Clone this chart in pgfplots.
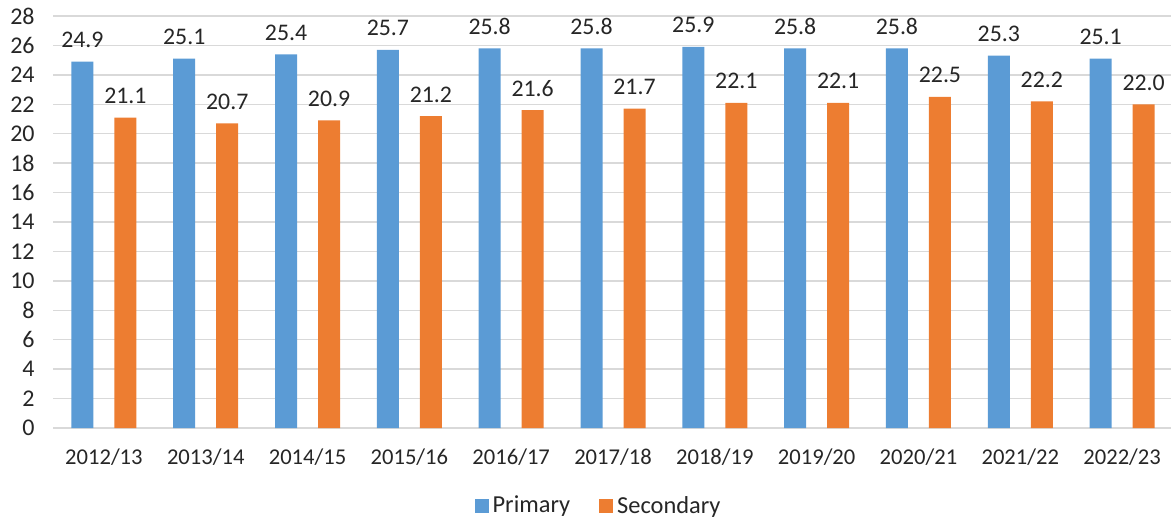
\documentclass[border=0pt]{standalone}
\usepackage{pgfplots}
\pgfplotsset{compat=1.18}
\usepackage{fontspec}
\setmainfont{Carlito}
\definecolor{prim}{HTML}{5B9BD5}
\definecolor{seco}{HTML}{ED7D31}
\definecolor{gridc}{HTML}{D9D9D9}
\definecolor{txt}{HTML}{262626}
\begin{document}
\begin{tikzpicture}
\useasboundingbox (0,0) rectangle (585.5pt,260.5pt);
\clip (0,0) rectangle (585.5pt,260.5pt);
\fontsize{11.3}{13.5}\selectfont
\begin{axis}[
  at={(26.5pt,46.5pt)}, anchor=south west,
  scale only axis, width=560pt, height=206pt,
  ybar=10.5pt, bar width=11pt,
  xmin=-0.5, xmax=10.5,
  ymin=0, ymax=28,
  ytick={0,2,...,28},
  xtick={0,...,10},
  xticklabels={2012/13,2013/14,2014/15,2015/16,2016/17,2017/18,2018/19,2019/20,2020/21,2021/22,2022/23},
  /pgf/number format/assume math mode=true,
  major tick length=0pt,
  axis line style={draw=none},
  ymajorgrids, grid style={gridc, line width=0.75pt},
  tick label style={font=\fontsize{11.3}{13.5}\selectfont, text=txt},
  yticklabel style={anchor=east, inner sep=0pt, xshift=-9pt, font=\fontsize{12}{14}\selectfont},
  xticklabel style={anchor=north, inner sep=0pt, yshift=-10pt},
  nodes near coords,
  nodes near coords style={font=\fontsize{11.9}{14}\selectfont, text=txt, anchor=base, inner sep=0pt, yshift=7pt,
     /pgf/number format/.cd, fixed, fixed zerofill, precision=1, assume math mode=true},
  legend style={draw=none, fill=none, at={(0.488,-0.19)}, anchor=center,
     legend columns=2, font=\fontsize{12.2}{14}\selectfont, text=txt,
     /tikz/every even column/.append style={column sep=12.5pt}},
  legend cell align=left,
  legend image code/.code={\fill[#1] (0pt,-3.5pt) rectangle (7pt,3.5pt);},
]
\addplot[fill=prim, draw=none] coordinates {(0,24.9) (1,25.1) (2,25.4) (3,25.7) (4,25.8) (5,25.8) (6,25.9) (7,25.8) (8,25.8) (9,25.3) (10,25.1)};
\addplot[fill=seco, draw=none] coordinates {(0,21.1) (1,20.7) (2,20.9) (3,21.2) (4,21.6) (5,21.7) (6,22.1) (7,22.1) (8,22.5) (9,22.2) (10,22.0)};
\legend{Primary, Secondary}
\end{axis}
\end{tikzpicture}
\end{document}
